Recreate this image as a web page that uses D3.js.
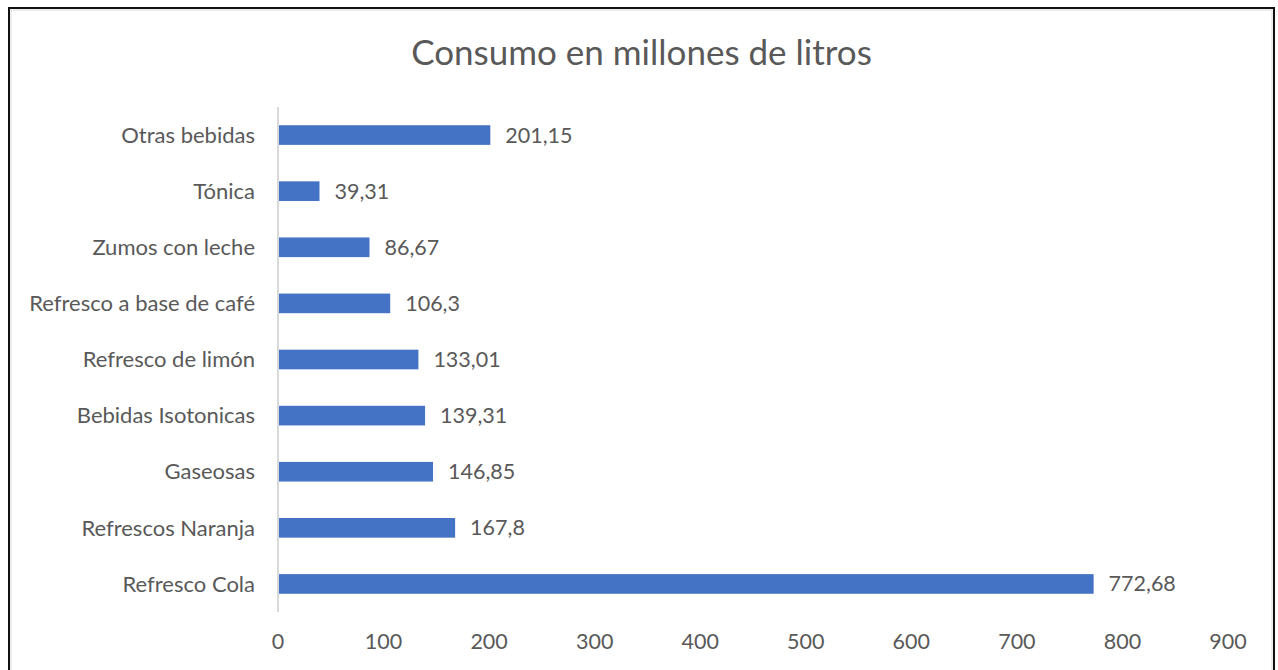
<!DOCTYPE html>
<html>
<head>
<meta charset="utf-8">
<script src="https://cdn.jsdelivr.net/npm/d3@7/dist/d3.min.js"></script>
<style>
  html, body { margin: 0; padding: 0; background: #fff; }
  svg { display: block; }
  text { font-family: Lato, "Open Sans", sans-serif; fill: #595959; }
</style>
</head>
<body>
<svg id="chart" width="1278" height="670"></svg>
<script>
// Consumption per drink category (millions of litres)
const categories = [
  "Otras bebidas",
  "Tónica",
  "Zumos con leche",
  "Refresco a base de café",
  "Refresco de limón",
  "Bebidas Isotonicas",
  "Gaseosas",
  "Refrescos Naranja",
  "Refresco Cola"
];
const values = [201.15, 39.31, 86.67, 106.3, 133.01, 139.31, 146.85, 167.8, 772.68];
const xTicks = [0, 100, 200, 300, 400, 500, 600, 700, 800, 900];
const title = "Consumo en millones de litros";

const svg = d3.select("#chart");

// Outer frame
svg.append("rect")
  .attr("x", 9).attr("y", 8)
  .attr("width", 1265).attr("height", 700)
  .attr("fill", "#fff")
  .attr("stroke", "#111").attr("stroke-width", 2);
svg.append("rect")
  .attr("x", 11).attr("y", 10)
  .attr("width", 1261).attr("height", 700)
  .attr("fill", "none")
  .attr("stroke", "#d9d9d9").attr("stroke-width", 1);

const plot = { left: 278, right: 1228, top: 107, bottom: 612 };

const x = d3.scaleLinear().domain([0, 900]).range([plot.left, plot.right]);
const y = d3.scaleBand().domain(categories)
  .range([plot.top, plot.bottom])
  .paddingInner(0.65).paddingOuter(0.325);

// Title
svg.append("text")
  .attr("x", (9 + 1274) / 2).attr("y", 65)
  .attr("text-anchor", "middle")
  .style("font-size", "35px")
  .text(title);

// Bars
svg.append("g").selectAll("rect")
  .data(categories)
  .join("rect")
  .attr("x", x(0))
  .attr("y", d => y(d))
  .attr("width", (d, i) => x(values[i]) - x(0))
  .attr("height", y.bandwidth())
  .attr("fill", "#4472C4");

// Category axis line
svg.append("line")
  .attr("x1", x(0)).attr("x2", x(0))
  .attr("y1", plot.top).attr("y2", plot.bottom)
  .attr("stroke", "#d9d9d9").attr("stroke-width", 2);

// Category labels
svg.append("g").selectAll("text")
  .data(categories)
  .join("text")
  .attr("x", x(0) - 23)
  .attr("y", d => y(d) + y.bandwidth() / 2)
  .attr("dy", "0.35em")
  .attr("text-anchor", "end")
  .style("font-size", "22px")
  .text(d => d);

// Value labels
const fmt = v => String(v).replace(".", ",");
svg.append("g").selectAll("text")
  .data(categories)
  .join("text")
  .attr("x", (d, i) => x(values[i]) + 15)
  .attr("y", d => y(d) + y.bandwidth() / 2)
  .attr("dy", "0.35em")
  .style("font-size", "21.5px")
  .text((d, i) => fmt(values[i]));

// Value axis tick labels
svg.append("g").selectAll("text")
  .data(xTicks)
  .join("text")
  .attr("x", d => x(d))
  .attr("y", 641)
  .attr("dy", "0.35em")
  .attr("text-anchor", "middle")
  .style("font-size", "21.5px")
  .text(d => d);
</script>
</body>
</html>
